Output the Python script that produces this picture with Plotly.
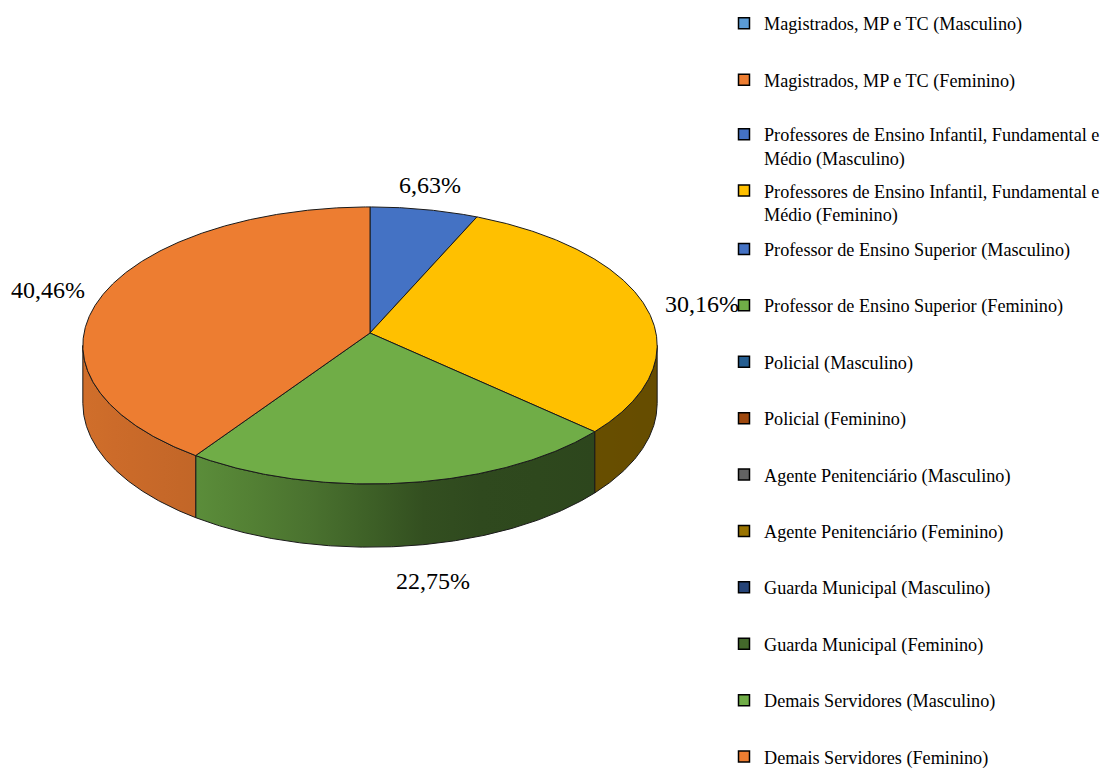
import numpy as np
import plotly.graph_objects as go

# ---------------- data ----------------
categories = [
    "Magistrados, MP e TC (Masculino)",
    "Magistrados, MP e TC (Feminino)",
    "Professores de Ensino Infantil, Fundamental e Médio (Masculino)",
    "Professores de Ensino Infantil, Fundamental e Médio (Feminino)",
    "Professor de Ensino Superior (Masculino)",
    "Professor de Ensino Superior (Feminino)",
    "Policial (Masculino)",
    "Policial (Feminino)",
    "Agente Penitenciário (Masculino)",
    "Agente Penitenciário (Feminino)",
    "Guarda Municipal (Masculino)",
    "Guarda Municipal (Feminino)",
    "Demais Servidores (Masculino)",
    "Demais Servidores (Feminino)",
]
values = [0, 0, 6.63, 30.16, 0, 0, 0, 0, 0, 0, 0, 0, 22.75, 40.46]
colors = [
    "#5B9BD5", "#ED7D31", "#4472C4", "#FFC000", "#4472C4", "#70AD47", "#255E91",
    "#9E480E", "#636363", "#997300", "#264478", "#43682B", "#70AD47", "#ED7D31",
]
legend_labels = [c.replace("Fundamental e ", "Fundamental e<br>") for c in categories]

# ---------------- geometry (screen pixel space) ----------------
OFF = 8                      # page body margin
SCREEN_W, SCREEN_H = 1110, 771
W, H_FIG = SCREEN_W - OFF, SCREEN_H - OFF
CX, CY = 370.0, 333.0        # pie centre
A, B = 286.0, 137.4          # horizontal / vertical radii
K = 0.09                     # perspective strength
DEPTH = 57.5                 # side wall height
FONT = "Liberation Serif, Times New Roman, serif"


def proj(theta_deg):
    t = np.radians(theta_deg)
    u, v = np.sin(t), np.cos(t)
    w = 1.0 / (1.0 + K * v)
    return CX + A * u * w, CY - B * v * w, w


def shade(x):
    xp = [84, 197, 300, 440, 660]
    fp = [0.88, 0.82, 0.68, 0.43, 0.40]
    return float(np.interp(x, xp, fp))


def scale_col(hexc, f):
    h = hexc.lstrip("#")
    r, g, b = (int(h[i:i + 2], 16) for i in (0, 2, 4))
    return f"rgb({int(r * f)},{int(g * f)},{int(b * f)})"


fig = go.Figure()

total = sum(values)
starts, ends = [], []
acc = 0.0
for v in values:
    starts.append(acc / total * 360.0)
    acc += v
    ends.append(acc / total * 360.0)

front_lo = np.degrees(np.arccos(-K))
front_hi = 360.0 - front_lo

# side walls
for i, v in enumerate(values):
    if v <= 0:
        continue
    a0, a1 = max(starts[i], front_lo), min(ends[i], front_hi)
    if a1 <= a0:
        continue
    th = np.linspace(a0, a1, 200)
    xt, yt, wt = proj(th)
    yb = yt + DEPTH * wt
    xs = np.concatenate([xt, xt[::-1], xt[:1]])
    ys = np.concatenate([yt, yb[::-1], yt[:1]])
    x0, x1 = float(xt.min()), float(xt.max())
    stops = np.linspace(0, 1, 8)
    cs = [[float(s), scale_col(colors[i], shade(x0 + s * (x1 - x0)))] for s in stops]
    fig.add_trace(go.Scatter(
        x=xs, y=ys, mode="lines", fill="toself",
        fillgradient=dict(type="horizontal", colorscale=cs, start=x0, stop=x1),
        line=dict(color="#1a1a1a", width=1), showlegend=False, hoverinfo="skip"))

# top faces
for i, v in enumerate(values):
    if v <= 0:
        continue
    th = np.linspace(starts[i], ends[i], max(20, int((ends[i] - starts[i]) * 3)))
    xt, yt, _ = proj(th)
    xs = np.concatenate([[CX], xt, [CX]])
    ys = np.concatenate([[CY], yt, [CY]])
    fig.add_trace(go.Scatter(
        x=xs, y=ys, mode="lines", fill="toself", fillcolor=colors[i],
        line=dict(color="#1a1a1a", width=1), showlegend=False,
        name=categories[i], hoverinfo="name"))

# data labels (outside end)
annotations = []
for i, v in enumerate(values):
    if v <= 0:
        continue
    mid = (starts[i] + ends[i]) / 2
    ex, ey, ew = proj(mid)
    dx, dy = np.sin(np.radians(mid)), -np.cos(np.radians(mid))
    if dy > 0:
        ey = ey + DEPTH * ew
    lx = ex + dx * 58 + 20 * max(dy, 0) - 8 * max(-dy, 0) * (1 - abs(dx))
    ly = ey + dy * 30 + 5
    annotations.append(dict(
        x=lx, y=ly, xref="x", yref="y", showarrow=False,
        text=f"{v:.2f}%".replace(".", ","), xanchor="center", yanchor="middle",
        font=dict(family=FONT, size=24, color="#000000")))

# legend: one legend per entry for Excel-like fixed spacing
LEG_X = 724
first_y, pitch = 23.5, 56.4
layout_legends = {}
for k, lab in enumerate(legend_labels):
    lname = "legend" if k == 0 else f"legend{k + 1}"
    fig.add_trace(go.Scatter(
        x=[None], y=[None], mode="markers", name=lab, legend=lname,
        marker=dict(symbol="square", size=11, color=colors[k],
                    line=dict(color="#000000", width=1.5)),
        showlegend=True, hoverinfo="skip"))
    yc = first_y + k * pitch
    if "<br>" in lab:
        yc += 10
    layout_legends[lname] = dict(
        x=(LEG_X - OFF) / W, y=1 - (yc - OFF) / H_FIG,
        xref="container", yref="container",
        xanchor="left", yanchor="middle",
        bgcolor="rgba(0,0,0,0)", borderwidth=0, valign="top",
        font=dict(family=FONT, size=18.2, color="#000000"),
        itemclick=False, itemdoubleclick=False)

fig.update_layout(
    width=W, height=H_FIG,
    margin=dict(l=0, r=0, t=0, b=0, autoexpand=False),
    paper_bgcolor="white", plot_bgcolor="white",
    xaxis=dict(range=[OFF, SCREEN_W], visible=False, fixedrange=True),
    yaxis=dict(range=[SCREEN_H, OFF], visible=False, fixedrange=True),
    annotations=annotations,
    **layout_legends,
)

fig.write_html("out.html")
